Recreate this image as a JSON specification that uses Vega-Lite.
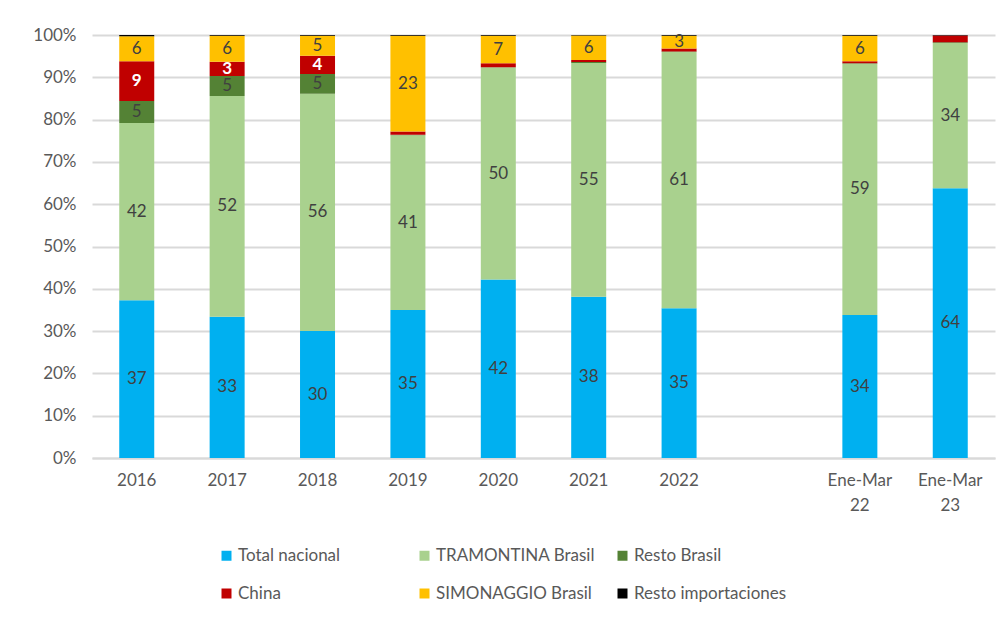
{
  "$schema": "https://vega.github.io/schema/vega-lite/v6.json",
  "width": 903,
  "height": 423,
  "autosize": {"type": "none"},
  "padding": {"left": 92, "top": 35, "right": 12, "bottom": 165},
  "background": "white",
  "config": {
    "font": "Lato",
    "view": {"stroke": null},
    "axisY": {
      "labelFontSize": 17,
      "labelColor": "#595959",
      "labelPadding": 16,
      "ticks": false,
      "domain": false,
      "gridColor": "#d9d9d9",
      "gridWidth": 2
    }
  },
  "data": {
    "values": [
      {"periodo": "2016", "serie": "Total nacional", "v": 37.3},
      {"periodo": "2016", "serie": "TRAMONTINA Brasil", "v": 41.9},
      {"periodo": "2016", "serie": "Resto Brasil", "v": 5.2},
      {"periodo": "2016", "serie": "China", "v": 9.4},
      {"periodo": "2016", "serie": "SIMONAGGIO Brasil", "v": 5.9},
      {"periodo": "2016", "serie": "Resto importaciones", "v": 0.3},
      {"periodo": "2017", "serie": "Total nacional", "v": 33.4},
      {"periodo": "2017", "serie": "TRAMONTINA Brasil", "v": 52.2},
      {"periodo": "2017", "serie": "Resto Brasil", "v": 4.7},
      {"periodo": "2017", "serie": "China", "v": 3.4},
      {"periodo": "2017", "serie": "SIMONAGGIO Brasil", "v": 6.1},
      {"periodo": "2017", "serie": "Resto importaciones", "v": 0.2},
      {"periodo": "2018", "serie": "Total nacional", "v": 30.0},
      {"periodo": "2018", "serie": "TRAMONTINA Brasil", "v": 56.1},
      {"periodo": "2018", "serie": "Resto Brasil", "v": 4.7},
      {"periodo": "2018", "serie": "China", "v": 4.3},
      {"periodo": "2018", "serie": "SIMONAGGIO Brasil", "v": 4.7},
      {"periodo": "2018", "serie": "Resto importaciones", "v": 0.2},
      {"periodo": "2019", "serie": "Total nacional", "v": 35.0},
      {"periodo": "2019", "serie": "TRAMONTINA Brasil", "v": 41.3},
      {"periodo": "2019", "serie": "Resto Brasil", "v": 0.1},
      {"periodo": "2019", "serie": "China", "v": 0.8},
      {"periodo": "2019", "serie": "SIMONAGGIO Brasil", "v": 22.6},
      {"periodo": "2019", "serie": "Resto importaciones", "v": 0.2},
      {"periodo": "2020", "serie": "Total nacional", "v": 42.2},
      {"periodo": "2020", "serie": "TRAMONTINA Brasil", "v": 50.1},
      {"periodo": "2020", "serie": "Resto Brasil", "v": 0.1},
      {"periodo": "2020", "serie": "China", "v": 0.9},
      {"periodo": "2020", "serie": "SIMONAGGIO Brasil", "v": 6.5},
      {"periodo": "2020", "serie": "Resto importaciones", "v": 0.2},
      {"periodo": "2021", "serie": "Total nacional", "v": 38.1},
      {"periodo": "2021", "serie": "TRAMONTINA Brasil", "v": 55.3},
      {"periodo": "2021", "serie": "Resto Brasil", "v": 0.2},
      {"periodo": "2021", "serie": "China", "v": 0.5},
      {"periodo": "2021", "serie": "SIMONAGGIO Brasil", "v": 5.8},
      {"periodo": "2021", "serie": "Resto importaciones", "v": 0.1},
      {"periodo": "2022", "serie": "Total nacional", "v": 35.4},
      {"periodo": "2022", "serie": "TRAMONTINA Brasil", "v": 60.6},
      {"periodo": "2022", "serie": "Resto Brasil", "v": 0.1},
      {"periodo": "2022", "serie": "China", "v": 0.7},
      {"periodo": "2022", "serie": "SIMONAGGIO Brasil", "v": 3.0},
      {"periodo": "2022", "serie": "Resto importaciones", "v": 0.2},
      {"periodo": "Ene-Mar 22", "serie": "Total nacional", "v": 33.8},
      {"periodo": "Ene-Mar 22", "serie": "TRAMONTINA Brasil", "v": 59.4},
      {"periodo": "Ene-Mar 22", "serie": "Resto Brasil", "v": 0.1},
      {"periodo": "Ene-Mar 22", "serie": "China", "v": 0.5},
      {"periodo": "Ene-Mar 22", "serie": "SIMONAGGIO Brasil", "v": 6.0},
      {"periodo": "Ene-Mar 22", "serie": "Resto importaciones", "v": 0.2},
      {"periodo": "Ene-Mar 23", "serie": "Total nacional", "v": 63.8},
      {"periodo": "Ene-Mar 23", "serie": "TRAMONTINA Brasil", "v": 34.3},
      {"periodo": "Ene-Mar 23", "serie": "Resto Brasil", "v": 0.2},
      {"periodo": "Ene-Mar 23", "serie": "China", "v": 1.6},
      {"periodo": "Ene-Mar 23", "serie": "SIMONAGGIO Brasil", "v": 0.0},
      {"periodo": "Ene-Mar 23", "serie": "Resto importaciones", "v": 0.1}
    ]
  },
  "transform": [
    {"calculate": "indexof(['Total nacional','TRAMONTINA Brasil','Resto Brasil','China','SIMONAGGIO Brasil','Resto importaciones'], datum.serie)", "as": "orden"},
    {"stack": "v", "groupby": ["periodo"], "sort": [{"field": "orden", "order": "ascending"}], "offset": "normalize", "as": ["y0", "y1"]},
    {"calculate": "(datum.y0 + datum.y1) / 2", "as": "ymid"}
  ],
  "encoding": {
    "x": {
      "field": "periodo",
      "type": "nominal",
      "sort": ["2016", "2017", "2018", "2019", "2020", "2021", "2022", " ", "Ene-Mar 22", "Ene-Mar 23"],
      "scale": {"domain": ["2016", "2017", "2018", "2019", "2020", "2021", "2022", " ", "Ene-Mar 22", "Ene-Mar 23"], "paddingInner": 0.61, "paddingOuter": 0.3},
      "axis": {
        "title": null,
        "labelAngle": 0,
        "labelExpr": "split(datum.label, ' ')",
        "labelFontSize": 17,
        "labelColor": "#595959",
        "labelLineHeight": 25,
        "labelPadding": 14,
        "ticks": false,
        "domainColor": "#d9d9d9",
        "domainWidth": 2
      }
    }
  },
  "layer": [
    {
      "mark": {"type": "bar", "width": 35},
      "encoding": {
        "y": {
          "field": "y0",
          "type": "quantitative",
          "scale": {"domain": [0, 1]},
          "axis": {
            "title": null,
            "format": ".0%",
            "values": [0, 0.1, 0.2, 0.3, 0.4, 0.5, 0.6, 0.7, 0.8, 0.9, 1],
            "labelOverlap": false
          }
        },
        "y2": {"field": "y1"},
        "color": {
          "field": "serie",
          "type": "nominal",
          "sort": ["Total nacional", "TRAMONTINA Brasil", "Resto Brasil", "China", "SIMONAGGIO Brasil", "Resto importaciones"],
          "scale": {
            "domain": ["Total nacional", "TRAMONTINA Brasil", "Resto Brasil", "China", "SIMONAGGIO Brasil", "Resto importaciones"],
            "range": ["#00B0F0", "#A9D18E", "#548235", "#C00000", "#FFC000", "#000000"]
          },
          "legend": {
            "title": null,
            "orient": "none",
            "legendX": 126,
            "legendY": 512,
            "direction": "horizontal",
            "columns": 3,
            "gridAlign": "all",
            "columnPadding": 19,
            "rowPadding": 20,
            "symbolType": "square",
            "symbolSize": 100,
            "symbolStrokeWidth": 0,
            "symbolOffset": 0,
            "labelFontSize": 17,
            "labelColor": "#595959",
            "labelOffset": 3,
            "labelLimit": 300
          }
        }
      }
    },
    {
      "transform": [{"filter": "datum.v >= 2.5 && datum.serie != 'China'"}],
      "mark": {"type": "text", "fontSize": 17, "color": "#404040", "baseline": "middle"},
      "encoding": {
        "y": {
          "field": "ymid",
          "type": "quantitative",
          "axis": {
            "title": null,
            "format": ".0%",
            "values": [0, 0.1, 0.2, 0.3, 0.4, 0.5, 0.6, 0.7, 0.8, 0.9, 1],
            "labelOverlap": false
          }
        },
        "text": {"field": "v", "type": "quantitative", "format": ".0f"}
      }
    },
    {
      "transform": [{"filter": "datum.v >= 2.5 && datum.serie == 'China'"}],
      "mark": {"type": "text", "fontSize": 17, "fontWeight": "bold", "color": "white", "baseline": "middle"},
      "encoding": {
        "y": {
          "field": "ymid",
          "type": "quantitative",
          "axis": {
            "title": null,
            "format": ".0%",
            "values": [0, 0.1, 0.2, 0.3, 0.4, 0.5, 0.6, 0.7, 0.8, 0.9, 1],
            "labelOverlap": false
          }
        },
        "text": {"field": "v", "type": "quantitative", "format": ".0f"}
      }
    }
  ]
}
